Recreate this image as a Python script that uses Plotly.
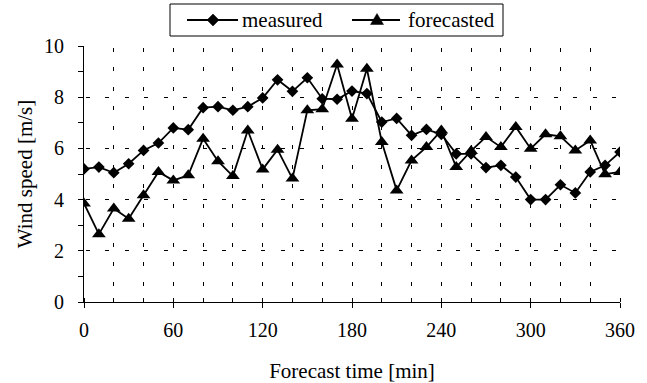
import plotly.graph_objects as go

minutes = [0, 10, 20, 30, 40, 50, 60, 70, 80, 90, 100, 110, 120, 130, 140, 150, 160, 170, 180,
           190, 200, 210, 220, 230, 240, 250, 260, 270, 280, 290, 300, 310, 320, 330, 340, 350, 360]
measured = [5.2, 5.27, 5.05, 5.4, 5.92, 6.21, 6.8, 6.73, 7.59, 7.63, 7.49, 7.63, 7.97, 8.68, 8.23,
            8.76, 7.94, 7.92, 8.24, 8.14, 7.03, 7.17, 6.51, 6.74, 6.55, 5.79, 5.79, 5.25, 5.34,
            4.88, 4.0, 4.0, 4.58, 4.26, 5.08, 5.34, 5.86]
forecasted = [3.85, 2.65, 3.65, 3.25, 4.17, 5.08, 4.75, 4.95, 6.38, 5.5, 4.92, 6.7, 5.18, 5.95,
              4.82, 7.49, 7.53, 9.28, 7.16, 9.11, 6.25, 4.36, 5.53, 6.05, 6.7, 5.27, 5.9, 6.45,
              6.05, 6.84, 5.99, 6.55, 6.47, 5.92, 6.31, 4.99, 5.08]
series_names = ["measured", "forecasted"]
x_ticks = [0, 60, 120, 180, 240, 300, 360]
x_grid = [20, 40, 60, 80, 100, 120, 140, 160, 180, 200, 220, 240, 260, 280, 300, 320, 340]
y_ticks = [0, 2, 4, 6, 8, 10]
y_grid = [2, 4, 6, 8]

FONT = "Liberation Serif, Times New Roman, serif"
W, H = 647, 383
ML, MR, MT, MB = 84, 27, 46, 81
PW, PH = W - ML - MR, H - MT - MB
LW = 1.8
GRID_DASH = "0px,1.5px,4px,14px"


def px(xp):
    return (xp - ML) / PW


def py(yp):
    return (H - MB - yp) / PH


fig = go.Figure()
fig.add_trace(go.Scatter(
    x=minutes, y=measured, name=series_names[0], mode="lines+markers",
    line=dict(color="black", width=LW),
    marker=dict(symbol="diamond", size=9, color="black"),
))
fig.add_trace(go.Scatter(
    x=minutes, y=forecasted, name=series_names[1], mode="lines+markers",
    line=dict(color="black", width=LW),
    marker=dict(symbol="triangle-up", size=12, color="black"),
))
# empty trace so that the overlay grid axes are drawn
fig.add_trace(go.Scatter(x=[None], y=[None], xaxis="x2", yaxis="y2",
                         showlegend=False, hoverinfo="skip"))

# custom legend (box, line samples, marker samples, labels)
shapes = [
    dict(type="rect", xref="paper", yref="paper", x0=px(170), x1=px(503), y0=py(36), y1=py(4),
         line=dict(color="black", width=1), fillcolor="white", layer="above"),
    dict(type="line", xref="paper", yref="paper", x0=px(187), x1=px(238), y0=py(20), y1=py(20),
         line=dict(color="black", width=LW), layer="above"),
    dict(type="line", xref="paper", yref="paper", x0=px(352), x1=px(400), y0=py(20), y1=py(20),
         line=dict(color="black", width=LW), layer="above"),
    dict(type="path", xref="paper", yref="paper", xsizemode="pixel", ysizemode="pixel",
         xanchor=px(213), yanchor=py(20), path="M -6 0 L 0 6 L 6 0 L 0 -6 Z",
         fillcolor="black", line=dict(color="black", width=0.5), layer="above"),
    dict(type="path", xref="paper", yref="paper", xsizemode="pixel", ysizemode="pixel",
         xanchor=px(377), yanchor=py(20), path="M -6.5 -4.5 L 6.5 -4.5 L 0 6.5 Z",
         fillcolor="black", line=dict(color="black", width=0.5), layer="above"),
]
annotations = [
    dict(text=series_names[0], xref="paper", yref="paper", x=px(240), y=py(20),
         xanchor="left", yanchor="middle", showarrow=False,
         font=dict(family=FONT, size=21, color="black")),
    dict(text=series_names[1], xref="paper", yref="paper", x=px(406), y=py(20),
         xanchor="left", yanchor="middle", showarrow=False,
         font=dict(family=FONT, size=21, color="black")),
]

fig.update_layout(
    width=W, height=H,
    margin=dict(l=ML, r=MR, t=MT, b=MB, autoexpand=False),
    paper_bgcolor="white", plot_bgcolor="white",
    font=dict(family=FONT, size=20, color="black"),
    showlegend=False,
    shapes=shapes, annotations=annotations,
    xaxis=dict(
        range=[0, 360], tickvals=x_ticks, showgrid=False, zeroline=False,
        showline=True, linecolor="black", linewidth=1,
        ticks="outside", ticklen=5, tickcolor="black",
        minor=dict(dtick=20, ticks="inside", ticklen=4, tickcolor="black", showgrid=False),
        tickfont=dict(size=20), ticklabelstandoff=5, automargin=False,
        title=dict(text="Forecast time [min]", font=dict(size=21), standoff=24),
    ),
    yaxis=dict(
        range=[0, 10], tickvals=y_ticks, showgrid=False, zeroline=False,
        showline=True, linecolor="black", linewidth=1,
        ticks="outside", ticklen=5, tickcolor="black",
        minor=dict(dtick=1, ticks="outside", ticklen=5, tickcolor="black", showgrid=False),
        tickfont=dict(size=20), ticklabelstandoff=10, automargin=False,
        title=dict(text="Wind speed [m/s]", font=dict(size=21), standoff=5),
    ),
    xaxis2=dict(
        overlaying="x", anchor="y2", range=[0, 360], tickvals=x_grid,
        showgrid=True, gridcolor="black", gridwidth=1, griddash=GRID_DASH,
        showticklabels=False, ticks="", showline=False, zeroline=False,
    ),
    yaxis2=dict(
        overlaying="y", anchor="x2", range=[0, 10], tickvals=y_grid,
        showgrid=True, gridcolor="black", gridwidth=1, griddash=GRID_DASH,
        showticklabels=False, ticks="", showline=False, zeroline=False,
    ),
)

fig.write_html("out.html", config={"displayModeBar": False},
               post_script="document.body.style.margin='0px';")
